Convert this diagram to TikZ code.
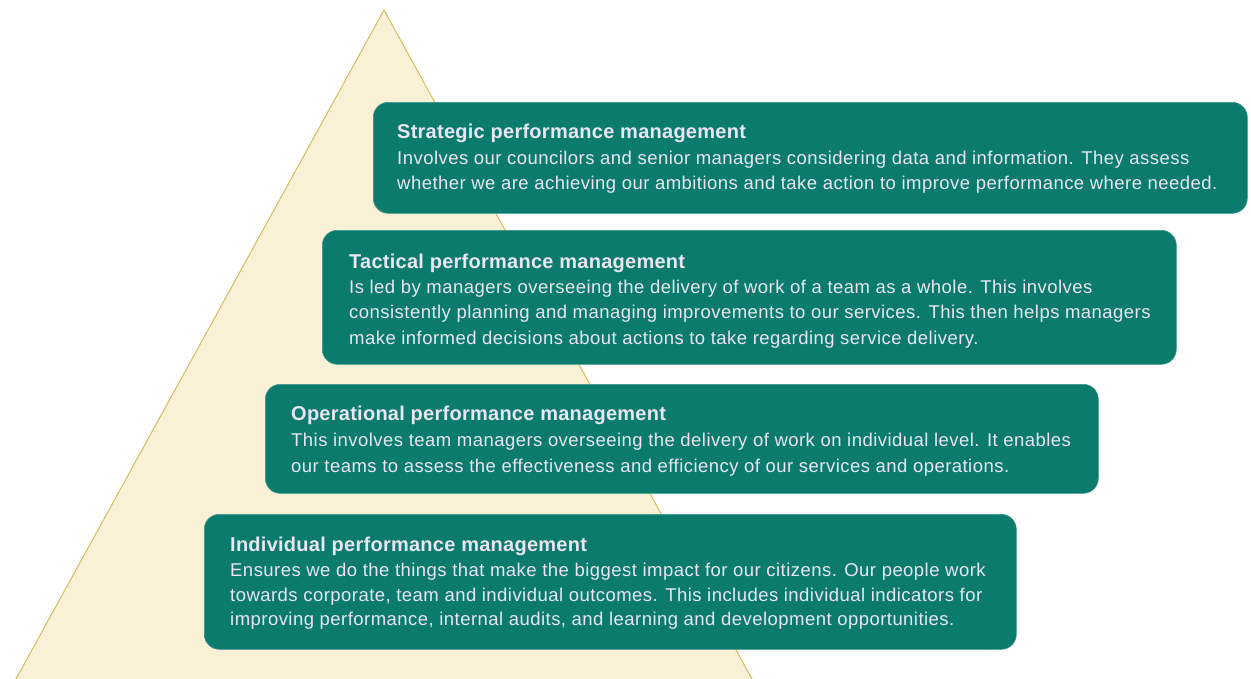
\documentclass[tikz,border=0pt]{standalone}
\usepackage{fontspec}
\setmainfont{Liberation Sans}
\newfontfamily\bodyfont[LetterSpace=2.5]{Liberation Sans}
\newfontfamily\titlefont[LetterSpace=1.3]{Liberation Sans}
\definecolor{teal1}{HTML}{0B7B6E}
\definecolor{cream}{HTML}{F8F1D5}
\definecolor{gold}{HTML}{D2BE5C}
\definecolor{txtc}{HTML}{E9E6F2}
\tikzset{
  pbox/.style={draw=teal1!80!white, line width=0.6pt, fill=teal1, rounded corners=15pt, anchor=north west, inner sep=0pt},
  ttl/.style={anchor=base west, inner sep=0pt, text=txtc, font=\titlefont\fontsize{20}{24}\selectfont\bfseries},
  bdy/.style={anchor=base west, inner sep=0pt, text=txtc, font=\bodyfont\fontsize{18.5}{22}\selectfont},
}
\begin{document}
\begin{tikzpicture}[x=1pt,y=-1pt]
\useasboundingbox (0,0) rectangle (1251,678);
\fill[white] (0,0) rectangle (1251,678);
% pyramid
\coordinate (apex) at (384,10);
\coordinate (bl) at (11,688);
\coordinate (br) at (757,688);
\fill[cream] (apex) -- (bl) -- (br) -- cycle;
\draw[gold, line width=1pt] (bl) -- (apex) -- (br);
% boxes
\node[pbox, minimum width=874pt, minimum height=111pt] (s) at (373,102) {};
\node[pbox, minimum width=854pt, minimum height=134pt] (t) at (322,230) {};
\node[pbox, minimum width=833pt, minimum height=109pt] (o) at (265,384) {};
\node[pbox, minimum width=812pt, minimum height=135pt] (i) at (204,514) {};
% strategic
\node[ttl] (s0) at (397,138) {Strategic performance management};
\node[bdy] (s1) at (397,164) {Involves our councilors and senior managers considering data and information. They assess};
\node[bdy] (s2) at (397,189) {whether we are achieving our ambitions and take action to improve performance where needed.};
% tactical
\node[ttl] (t0) at (349,268) {Tactical performance management};
\node[bdy] (t1) at (349,293) {Is led by managers overseeing the delivery of work of a team as a whole. This involves};
\node[bdy] (t2) at (349,318) {consistently planning and managing improvements to our services. This then helps managers};
\node[bdy] (t3) at (349,344) {make informed decisions about actions to take regarding service delivery.};
% operational
\node[ttl] (o0) at (291,420) {Operational performance management};
\node[bdy] (o1) at (291,446) {This involves team managers overseeing the delivery of work on individual level. It enables};
\node[bdy] (o2) at (291,472) {our teams to assess the effectiveness and efficiency of our services and operations.};
% individual
\node[ttl] (i0) at (230,551) {Individual performance management};
\node[bdy] (i1) at (230,576) {Ensures we do the things that make the biggest impact for our citizens. Our people work};
\node[bdy] (i2) at (230,601) {towards corporate, team and individual outcomes. This includes individual indicators for};
\node[bdy] (i3) at (230,625) {improving performance, internal audits, and learning and development opportunities.};
\end{tikzpicture}
\end{document}
